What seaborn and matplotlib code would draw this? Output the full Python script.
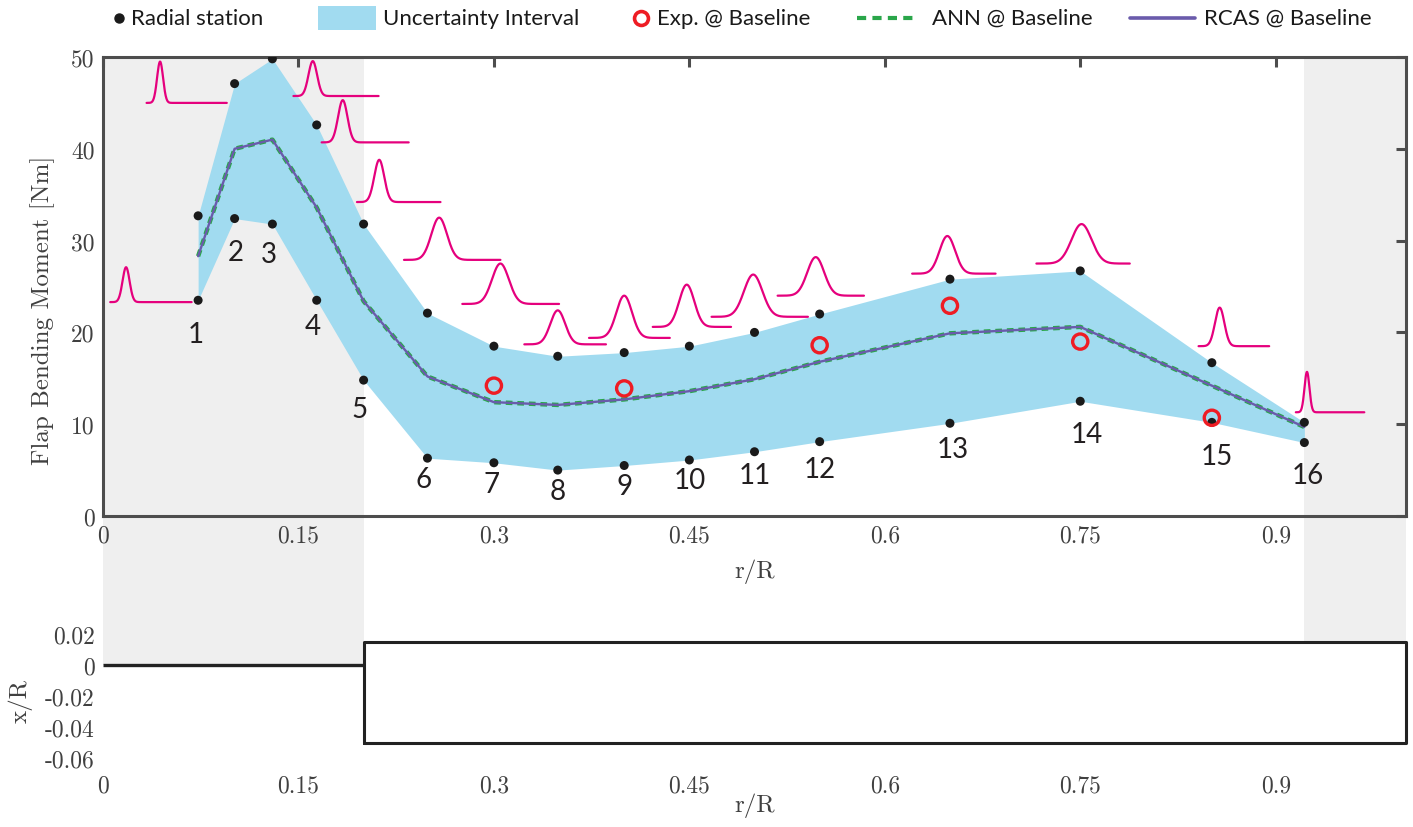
import numpy as np
import matplotlib
matplotlib.use("Agg")
import matplotlib.pyplot as plt
import seaborn as sns
import pandas as pd
from matplotlib import transforms
from matplotlib.lines import Line2D
from matplotlib.patches import Rectangle

# --- data ---
station_id = list(range(1, 17))
station_r = [0.073, 0.101, 0.130, 0.164, 0.200, 0.249, 0.300, 0.349,
             0.400, 0.450, 0.500, 0.550, 0.650, 0.750, 0.851, 0.922]
upper_nm = [32.7, 47.1, 49.8, 42.6, 31.8, 22.1, 18.5, 17.4,
            17.8, 18.5, 20.0, 22.0, 25.8, 26.7, 16.7, 10.2]
lower_nm = [23.5, 32.4, 31.8, 23.5, 14.8, 6.3, 5.8, 5.0,
            5.5, 6.1, 7.0, 8.1, 10.1, 12.5, 10.2, 8.0]
rcas_nm = [28.3, 40.0, 41.0, 33.6, 23.4, 15.2, 12.4, 12.1,
           12.7, 13.6, 14.9, 16.8, 19.9, 20.6, 14.2, 9.7]
ann_nm = [28.3, 40.0, 41.0, 33.6, 23.4, 15.2, 12.4, 12.1,
          12.7, 13.6, 14.9, 16.8, 19.9, 20.6, 14.2, 9.7]
exp_r = [0.300, 0.400, 0.550, 0.650, 0.750, 0.851]
exp_nm = [14.2, 13.9, 18.6, 22.9, 19.0, 10.7]

# station number labels
label_r = [0.071, 0.102, 0.127, 0.161, 0.197, 0.246, 0.298, 0.349,
           0.400, 0.450, 0.500, 0.550, 0.652, 0.755, 0.855, 0.925]
label_nm = [19.8, 28.8, 28.5, 20.7, 11.7, 4.0, 3.5, 2.7,
            3.3, 3.9, 4.5, 5.1, 7.3, 8.9, 6.5, 4.5]

# small distribution glyph per station (peak, baseline, height, spread, tail end)
glyph_peak = [0.0177, 0.0438, 0.161, 0.184, 0.212, 0.258, 0.305, 0.349,
              0.400, 0.448, 0.499, 0.547, 0.648, 0.751, 0.857, 0.924]
glyph_base = [23.3, 45.0, 45.75, 40.7, 34.2, 27.9, 23.1, 18.7,
              19.4, 20.6, 21.7, 24.0, 26.4, 27.5, 18.5, 11.3]
glyph_height = [3.8, 4.5, 3.8, 4.6, 4.6, 4.6, 4.4, 3.7,
                4.6, 4.6, 4.6, 4.2, 4.1, 4.3, 4.2, 4.4]
glyph_sigma = [0.0027, 0.0023, 0.0033, 0.0036, 0.0038, 0.0060, 0.0065, 0.0057,
               0.0060, 0.0058, 0.0071, 0.0065, 0.0060, 0.0077, 0.0036, 0.0019]
glyph_end = [0.068, 0.095, 0.2115, 0.2346, 0.259, 0.305, 0.350, 0.386,
             0.435, 0.482, 0.541, 0.584, 0.685, 0.788, 0.895, 0.968]

# blade planform (bottom panel)
hub_r = [0.0, 0.2]
blade_r = [0.2, 1.0]
blade_x = [-0.05, 0.015]
hub_band = [0.0, 0.2]
tip_band = [0.922, 1.0]

r_ticks = [0, 0.15, 0.3, 0.45, 0.6, 0.75, 0.9]
r_ticklabels = ["0", "0.15", "0.3", "0.45", "0.6", "0.75", "0.9"]
nm_ticks = [0, 10, 20, 30, 40, 50]
x_ticks = [0.02, 0, -0.02, -0.04, -0.06]
x_ticklabels = ["0.02", "0", "-0.02", "-0.04", "-0.06"]

# --- colours ---
BAND = "#a1dbf0"
GREY = "#efefef"
MAGENTA = "#e5007d"
GREEN = "#2aa64a"
PURPLE = "#6a5bab"
RED = "#ee1c24"
AXC = "#4d4d4d"
TXT = "#404040"
SANS = ["Lato", "DejaVu Sans"]

sns.set_style("white")
plt.rcParams["font.family"] = ["cmr10", "DejaVu Serif"]
plt.rcParams["axes.formatter.use_mathtext"] = True

W, H = 1413, 828
fig = plt.figure(figsize=(W / 100, H / 100), dpi=100)
ax = fig.add_axes([103 / W, 1 - 517 / H, 1303 / W, 459 / H])
axb = fig.add_axes([103 / W, 1 - 759 / H, 1303 / W, 124 / H])
ax.set_facecolor("none")
axb.set_facecolor("none")

ax.set_xlim(0, 1.0)
ax.set_ylim(0, 50)
axb.set_xlim(0, 1.0)
axb.set_ylim(-0.06, 0.02)

# grey hub / tip regions spanning both panels (from top frame to the x/R = 0 line)
pos_b = axb.get_position()
y_zero = pos_b.y0 + pos_b.height * (0 - (-0.06)) / 0.08
y_top = 1 - 58 / H
trans = transforms.blended_transform_factory(ax.transData, fig.transFigure)
for r0, r1 in (hub_band, tip_band):
    fig.add_artist(Rectangle((r0, y_zero), r1 - r0, y_top - y_zero, transform=trans,
                             facecolor=GREY, edgecolor="none", zorder=-1))

df = pd.DataFrame({"r": station_r, "upper": upper_nm, "lower": lower_nm,
                   "rcas": rcas_nm, "ann": ann_nm})

ax.fill_between(df["r"], df["lower"], df["upper"], color=BAND, lw=0, zorder=1)
sns.lineplot(data=df, x="r", y="ann", ax=ax, color=GREEN, lw=3.2,
             linestyle=(0, (1.5, 1.1)), zorder=3)
sns.lineplot(data=df, x="r", y="rcas", ax=ax, color=PURPLE, lw=1.7, zorder=4)
sns.scatterplot(x=station_r + station_r, y=upper_nm + lower_nm, ax=ax,
                color="#1a1a1a", s=42, edgecolor="none", zorder=6)
sns.scatterplot(x=exp_r, y=exp_nm, ax=ax, s=120, facecolors="none",
                edgecolor=RED, linewidth=2.4, zorder=7)

# distribution glyphs
for pk, b, h, s, e in zip(glyph_peak, glyph_base, glyph_height, glyph_sigma, glyph_end):
    gx = np.linspace(pk - 4.5 * s, e, 300)
    gy = b + h * np.exp(-0.5 * ((gx - pk) / s) ** 2)
    ax.plot(gx, gy, color=MAGENTA, lw=1.6, zorder=5, clip_on=False)

for sid, lr, ln in zip(station_id, label_r, label_nm):
    ax.text(lr, ln, str(sid), ha="center", va="center", fontsize=20,
            family=SANS, color="#231f20", zorder=8)

# axes styling, MATLAB-like box with inward ticks
for sp in ax.spines.values():
    sp.set_color(AXC)
    sp.set_linewidth(2.2)
ax.set_xticks(r_ticks)
ax.set_xticklabels(r_ticklabels)
ax.set_yticks(nm_ticks)
ax.set_yticklabels([str(v) for v in nm_ticks])
ax.tick_params(direction="in", length=7.5, width=2.2, color=AXC,
               top=True, right=True, labelsize=17, labelcolor=TXT, pad=6)
ax.set_xlabel("r/R", fontsize=18, color=TXT, va="top")
ax.xaxis.set_label_coords(0.5, -0.092)
ax.set_ylabel("Flap Bending Moment [Nm]", fontsize=18, color=TXT)
ax.yaxis.set_label_coords(-0.037, 0.45)

# bottom panel: blade planform
axb.plot(hub_r, [0, 0], color="#222222", lw=2.4, solid_capstyle="butt", zorder=3)
bx = [blade_r[0], blade_r[1], blade_r[1], blade_r[0], blade_r[0]]
by = [blade_x[0], blade_x[0], blade_x[1], blade_x[1], blade_x[0]]
axb.fill(bx, by, color="white", zorder=2)
axb.plot(bx, by, color="#222222", lw=2.2, zorder=3, clip_on=False)
for sp in axb.spines.values():
    sp.set_visible(False)
axb.set_xticks(r_ticks)
axb.set_xticklabels(r_ticklabels)
axb.set_yticks(x_ticks)
axb.set_yticklabels(x_ticklabels)
axb.tick_params(length=0, labelsize=17, labelcolor=TXT, pad=6)
axb.tick_params(axis="x", pad=12)
axb.set_xlabel("r/R", fontsize=18, color=TXT, va="top")
axb.xaxis.set_label_coords(0.5, -0.28)
axb.set_ylabel("x/R", fontsize=18, color=TXT)
axb.yaxis.set_label_coords(-0.054, 0.47)

# legend row drawn in figure coordinates
ly = 1 - 19 / H
fx = lambda px: px / W
fig.add_artist(Line2D([fx(119)], [ly], marker="o", ms=6.5, color="#1a1a1a", lw=0))
fig.add_artist(Rectangle((fx(318), 1 - 31 / H), fx(58), 24 / H, facecolor=BAND, edgecolor="none"))
fig.add_artist(Line2D([fx(641)], [ly], marker="o", ms=10, mfc="none", mec=RED, mew=2.6, lw=0))
fig.add_artist(Line2D([fx(857), fx(918)], [ly, ly], color=GREEN, lw=3, linestyle=(0, (2.2, 1.5))))
fig.add_artist(Line2D([fx(1130), fx(1195)], [ly, ly], color=PURPLE, lw=2.6))
legend_items = [(131, "Radial station"), (383, "Uncertainty Interval"),
                (657, "Exp. @ Baseline"), (932, "ANN @ Baseline"),
                (1204, "RCAS @ Baseline")]
for px, txt in legend_items:
    fig.text(fx(px), ly, txt, ha="left", va="center", fontsize=16,
             family=SANS, color="#1a1a1a")

fig.savefig("out.png", dpi=100)
